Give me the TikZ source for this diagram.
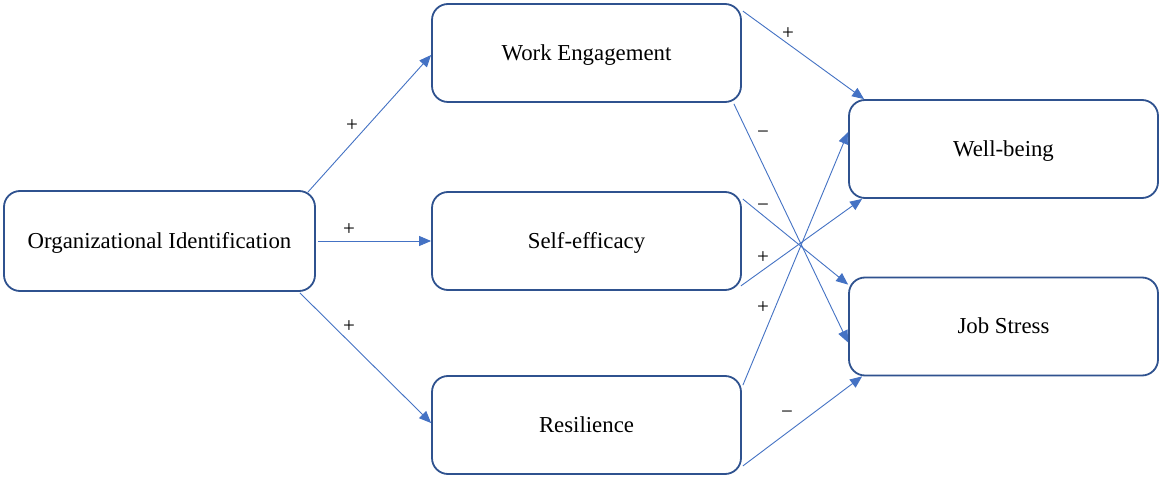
\documentclass[tikz,border=0pt]{standalone}
\usepackage{fontspec}
\setmainfont{Liberation Serif}
\usetikzlibrary{arrows.meta,calc}
\definecolor{boxline}{HTML}{2F528F}
\definecolor{arrowline}{HTML}{4472C4}
\begin{document}
\begin{tikzpicture}[x=1pt,y=-1pt,
  concept/.style={draw=boxline,line width=1.8pt,rounded corners=16pt,
    minimum width=309pt,minimum height=98pt,inner sep=0pt,
    text height=20pt,text depth=5pt,
    font=\fontsize{22.8}{27}\selectfont,text=black},
  path/.style={draw=arrowline,line width=0.9pt,
    -{Triangle[length=12pt,width=10pt]}},
  sign/.style={font=\fontsize{21}{22}\selectfont,text=black,inner sep=0pt}]
\useasboundingbox[fill=white] (0,0) rectangle (1160,478);

% constructs
\node[concept,minimum width=311pt,minimum height=100pt] (oi) at (159.5,241) {Organizational Identification};
\node[concept] (we)  at (586.5,53)  {Work Engagement};
\node[concept] (se)  at (586.5,241) {Self-efficacy};
\node[concept] (res) at (586.5,425) {Resilience};
\node[concept] (wb)  at (1003.5,149) {Well-being};
\node[concept] (js)  at (1003.5,326.5) {Job Stress};

% paths from organizational identification
\draw[path] ($(oi.north east)+(-8,2)$) -- ($(we.west)+(0,2)$);
\draw[path] ($(oi.east)+(2,0)$) -- (se.west);
\draw[path] ($(oi.south east)+(-16,1)$) -- ($(res.west)+(0,-2)$);

% paths to the outcomes
\draw[path] ($(we.north east)+(1,8)$) -- ($(wb.north west)+(16,0)$);
\draw[path] ($(we.south east)+(-8,1)$) -- ($(js.west)+(0,16)$);
\draw[path] ($(se.north east)+(1,8)$) -- ($(js.north west)+(0,8)$);
\draw[path] ($(se.south east)+(-1,-5)$) -- ($(wb.south west)+(14,0)$);
\draw[path] ($(res.north east)+(1,10)$) -- ($(wb.west)+(0,-17)$);
\draw[path] ($(res.south east)+(1,-9)$) -- ($(js.south west)+(14,0)$);

% signs
\node[sign] (s1) at (352,126) {+};
\node[sign] (s2) at (349,230) {+};
\node[sign] (s3) at (349,327) {+};
\node[sign] (s4) at (788,34)  {+};
\node[sign] (s5) at (763,135) {−};
\node[sign] (s6) at (763,208) {−};
\node[sign] (s7) at (763,258) {+};
\node[sign] (s8) at (763,308) {+};
\node[sign] (s9) at (787,415) {−};
\end{tikzpicture}
\end{document}
